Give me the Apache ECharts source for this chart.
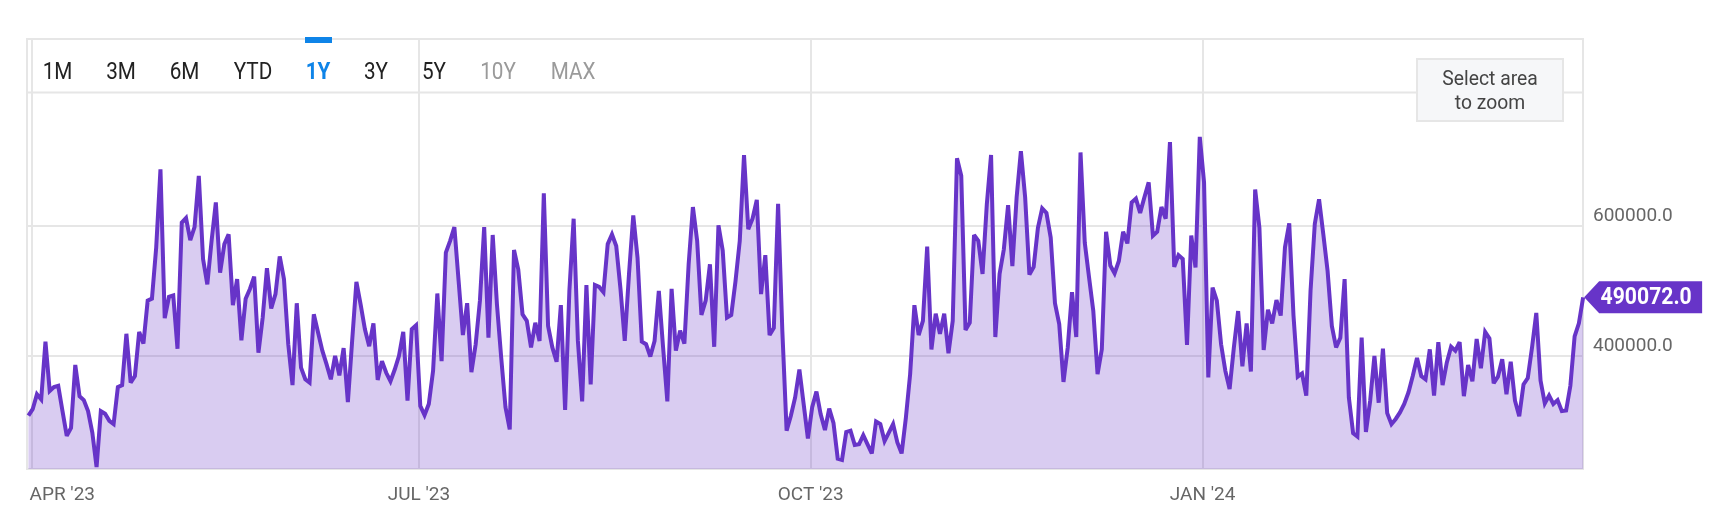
<!DOCTYPE html>
<html>
<head>
<meta charset="utf-8">
<style>html,body{margin:0;padding:0;background:#fff}#c{width:1714px;height:522px}</style>
<script src="https://cdn.jsdelivr.net/npm/echarts@6/dist/echarts.min.js"></script>
</head>
<body>
<div id="c"></div>
<script>
const seriesName = 'Value';
const startDay = Date.UTC(2023, 2, 31, 8);
const lastValue = 490072;
const values = [
308,318,341,333,422,346,352,354,315,277,289,386,338,332,315,282,229,315,311,300,295,352,355,434,359,369,437,419,485,488,
567,687,458,491,493,411,605,612,578,598,677,549,510,577,636,528,572,587,478,518,424,488,503,522,405,459,535,473,495,553,
518,418,355,481,382,364,359,464,436,408,387,364,400,370,412,329,423,514,479,441,415,450,363,392,374,361,379,400,437,331,
441,447,323,309,326,
377,496,392,559,577,598,515,432,481,375,418,485,598,428,586,479,397,321,287,563,533,464,454,413,451,423,650,446,413,391,
478,317,500,611,423,330,509,356,509,506,498,572,587,569,503,423,526,616,551,422,418,399,423,500,413,330,503,408,439,419,
541,629,577,463,485,541,414,601,562,459,463,515,577,709,595,611,640,495,555,432,443,634,438,285,308,336,379,326,273,321,
345,310,286,319,297,242,
240,283,285,263,264,278,264,250,299,295,269,282,295,267,250,305,372,478,432,454,568,410,465,434,465,404,454,704,677,440,
451,586,577,526,633,709,429,526,564,632,538,644,715,644,525,537,597,627,620,582,481,449,360,413,498,429,713,574,521,469,
372,410,591,539,527,546,591,573,636,642,620,644,667,585,591,629,611,729,537,555,549,417,585,536,737,667,367,505,485,418,
377,349,413,469,384,450,376,656,597,
409,471,450,486,462,567,604,462,368,373,339,500,603,641,587,531,446,413,428,518,336,281,276,428,283,331,400,328,411,312,
295,303,313,326,344,369,397,369,364,410,339,421,355,390,414,408,421,338,386,361,426,381,437,427,358,368,395,341,391,331,
307,356,366,413,466,362,327,339,326,332,315,316,354,430,450
].map(v => v * 1000).concat([lastValue]);
const yTicks = [400000, 600000];
const xTickDays = [[2023,3,1,"APR '23"],[2023,6,1,"JUL '23"],[2023,9,1,"OCT '23"],[2024,0,1,"JAN '24"]];
const rangeButtons = ['1M','3M','6M','YTD','1Y','3Y','5Y','10Y','MAX'];
const activeButton = '1Y';
const disabledButtons = ['10Y','MAX'];
const zoomHint = 'Select area\nto zoom';

const DAY = 86400000;
const xMin = Date.UTC(2023, 2, 31);
const xMax = xMin + 365.3 * DAY;
const seriesData = values.map((v, i) => [startDay + i * DAY, v]);
const xTicks = xTickDays.map(d => Date.UTC(d[0], d[1], d[2]));
const xLabels = Object.fromEntries(xTickDays.map((d, i) => [xTicks[i], d[3]]));

const GRID = '#e6e6e6', PURPLE = '#6734c8', FONT = 'Roboto, sans-serif';
const buttonX = [57.5, 121, 184.5, 253, 318, 376, 434, 498, 573];
const buttons = rangeButtons.map((t, i) => ({
  type: 'text', x: buttonX[i], y: 73, z: 20, scaleX: 0.9,
  style: {
    text: t, align: 'center', verticalAlign: 'middle', fontFamily: FONT, fontSize: 23,
    fontWeight: t === activeButton ? 700 : 400,
    fill: t === activeButton ? '#0e84e8' : disabledButtons.includes(t) ? '#9a9a9a' : '#222'
  }
}));

function renderTag(params, api) {
  const p = api.coord([api.value(0), api.value(1)]);
  const tipX = p[0] + 1, h = 16, neck = 15, w = 118;
  return {
    type: 'group',
    children: [
      {type: 'polygon', shape: {points: [[tipX, p[1]], [tipX + neck, p[1] - h], [tipX + w, p[1] - h], [tipX + w, p[1] + h], [tipX + neck, p[1] + h]]}, style: {fill: PURPLE}},
      {type: 'text', x: tipX + 62, y: p[1] + 1, scaleX: 0.92, style: {text: api.value(1).toFixed(1), align: 'center', verticalAlign: 'middle', fill: '#fff', fontFamily: FONT, fontWeight: 700, fontSize: 23}}
    ]
  };
}

const chart = echarts.init(document.getElementById('c'), null, {renderer: 'canvas'});
chart.setOption({
  animation: false,
  backgroundColor: '#fff',
  grid: {left: 27, right: 131, top: 39, bottom: 53, show: true, borderColor: GRID, borderWidth: 2, backgroundColor: 'transparent'},
  xAxis: {
    type: 'value', min: xMin, max: xMax, scale: true,
    axisLine: {show: false},
    axisTick: {show: false, customValues: xTicks},
    splitLine: {show: true, lineStyle: {color: GRID, width: 2}},
    axisLabel: {
      customValues: xTicks, margin: 17, color: '#666', fontFamily: FONT, fontSize: 19,
      formatter: v => v === xTicks[0] ? '{a|' + xLabels[v] + '}' : xLabels[v],
      rich: {a: {padding: [0, 0, 0, 62], color: '#666', fontFamily: FONT, fontSize: 19}}
    }
  },
  yAxis: {
    type: 'value', position: 'right', min: 226000, max: 887500,
    axisLine: {show: false},
    axisTick: {show: false, customValues: yTicks},
    splitLine: {show: true, lineStyle: {color: GRID, width: 2}},
    axisLabel: {
      customValues: yTicks, margin: 10, color: '#666', fontFamily: FONT, fontSize: 19,
      verticalAlign: 'bottom', padding: [0, 0, 0, 0],
      formatter: v => v.toFixed(1)
    }
  },
  series: [{
    name: seriesName, type: 'line', data: seriesData, showSymbol: false, symbol: 'none',
    lineStyle: {color: PURPLE, width: 4, join: 'miter', miterLimit: 3},
    areaStyle: {color: PURPLE, opacity: 0.25}
  }, {
    type: 'custom', data: [seriesData[seriesData.length - 1]], clip: false, silent: true, z: 10,
    renderItem: renderTag
  }],
  graphic: [
    {type: 'line', z: 1, shape: {x1: 27, y1: 92.5, x2: 1583, y2: 92.5}, style: {stroke: GRID, lineWidth: 2}},
    {type: 'rect', z: 3, shape: {x: 1417, y: 59, width: 146, height: 62}, style: {fill: '#f6f7f9', stroke: GRID, lineWidth: 2}},
    {type: 'text', z: 4, x: 1490, y: 92, scaleX: 0.92, style: {text: zoomHint, align: 'center', verticalAlign: 'middle', fontFamily: FONT, fontSize: 21, lineHeight: 24, fill: '#444'}},
    {type: 'rect', z: 20, shape: {x: 305, y: 37, width: 27, height: 6}, style: {fill: '#0e84e8'}},
    ...buttons
  ]
});
</script>
</body>
</html>
